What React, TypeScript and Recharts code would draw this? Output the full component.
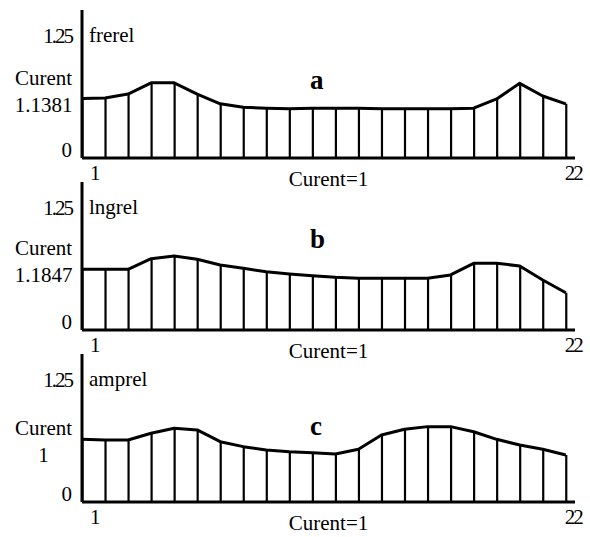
import React from 'react';
import { ComposedChart, Line, Bar, XAxis, YAxis, Customized } from 'recharts';

// point index along the x axis (1..22)
const points = [1, 2, 3, 4, 5, 6, 7, 8, 9, 10, 11, 12, 13, 14, 15, 16, 17, 18, 19, 20, 21, 22];

// relative values (0 .. 1.25 scale)
const frerel = [0.61, 0.615, 0.655, 0.77, 0.77, 0.655, 0.555, 0.52, 0.51, 0.505, 0.51, 0.51, 0.51, 0.505, 0.505, 0.505, 0.505, 0.51, 0.605, 0.765, 0.635, 0.555];
const lngrel = [0.622, 0.622, 0.622, 0.73, 0.758, 0.724, 0.666, 0.632, 0.597, 0.574, 0.556, 0.54, 0.53, 0.53, 0.53, 0.53, 0.564, 0.683, 0.683, 0.656, 0.512, 0.382];
const amprel = [0.642, 0.635, 0.635, 0.704, 0.755, 0.738, 0.618, 0.567, 0.533, 0.515, 0.505, 0.492, 0.54, 0.686, 0.745, 0.772, 0.772, 0.72, 0.642, 0.584, 0.54, 0.482];

const seriesNames = ['frerel', 'lngrel', 'amprel'];
const panelLetters = ['a', 'b', 'c'];
const currentValues = ['1.1381', '1.1847', '1'];
const topTick = 1.25;
const xTicks = [1, 22];
const xAxisTitle = 'Curent=1';

const FONT = 'Liberation Serif';
const FS = 21;

// layout of the "Curent" label around the first point, per panel
const curentOffsets = [
  [-13, 14],
  [-14, 13],
  [-4, 23],
];

const Stick = (props: any) => {
  const { x, y, width, height } = props;
  if (x == null || y == null) return null;
  const cx = x + width / 2;
  return <line x1={cx} x2={cx} y1={y} y2={y + height} stroke="#000" strokeWidth={2.2} />;
};

const makeYTick = (first: number, cur: string, offs: number[]) => (props: any) => {
  const { x, y, payload } = props;
  const v = payload.value;
  if (v === 0) {
    return (
      <text x={x} y={y - 1} textAnchor="end" fontFamily={FONT} fontSize={FS} fill="#000">0</text>
    );
  }
  if (v === topTick) {
    return (
      <text x={x} y={y + 7} textAnchor="end" fontFamily={FONT} fontSize={FS} fill="#000" letterSpacing={-2}>1.25</text>
    );
  }
  if (v === first) {
    return (
      <g>
        <text x={x - 28.5} y={y + offs[0]} textAnchor="middle" fontFamily={FONT} fontSize={FS} fill="#000">Curent</text>
        <text x={x - 28.5} y={y + offs[1]} textAnchor="middle" fontFamily={FONT} fontSize={FS} fill="#000">{cur}</text>
      </g>
    );
  }
  return null;
};

const XTick = (props: any) => {
  const { x, y, payload } = props;
  const dx = payload.value === 1 ? 8 : -1;
  return (
    <text x={x + dx} y={y + 22} textAnchor="start" fontFamily={FONT} fontSize={FS} fill="#000" letterSpacing={payload.value === 22 ? -2 : 0}>{payload.value}</text>
  );
};

const Annot = ({ name, letter, letterY }: { name: string; letter: string; letterY: number }) => (
  <g>
    <text x={89} y={42} fontFamily={FONT} fontSize={FS} fill="#000">{name}</text>
    <text x={310} y={letterY} fontFamily={FONT} fontSize={27} fontWeight="bold" fill="#000">{letter}</text>
  </g>
);

const letterBaselines = [89, 76, 91];

function Panel({ idx, values }: { idx: number; values: number[] }) {
  const data = points.map((p, i) => ({ x: p, v: values[i] }));
  const first = values[0];
  return (
    <ComposedChart
      width={590}
      height={190}
      data={data}
      margin={{ top: 10, right: 15, bottom: 2, left: 0 }}
    >
      <XAxis
        dataKey="x"
        type="number"
        domain={[1, 22.4]}
        ticks={xTicks}
        interval={0}
        tickSize={0}
        tickMargin={0}
        height={30}
        axisLine={{ stroke: '#000', strokeWidth: 3 }}
        tickLine={false}
        tick={<XTick />}
        label={{ value: xAxisTitle, position: 'insideBottom', offset: 2, fontFamily: FONT, fontSize: FS, fill: '#000' }}
      />
      <YAxis
        type="number"
        domain={[0, 1.516]}
        allowDataOverflow
        ticks={[0, first, topTick]}
        interval={0}
        width={82}
        tickSize={0}
        tickMargin={10}
        axisLine={{ stroke: '#000', strokeWidth: 3 }}
        tickLine={false}
        tick={makeYTick(first, currentValues[idx], curentOffsets[idx])}
      />
      <Bar dataKey="v" barSize={2} shape={<Stick />} isAnimationActive={false} />
      <Line
        dataKey="v"
        type="linear"
        stroke="#000"
        strokeWidth={3}
        strokeLinejoin="round"
        dot={false}
        activeDot={false}
        isAnimationActive={false}
      />
      <Customized component={<Annot name={seriesNames[idx]} letter={panelLetters[idx]} letterY={letterBaselines[idx]} />} />
    </ComposedChart>
  );
}

export default function App() {
  const all = [frerel, lngrel, amprel];
  return (
    <div style={{ position: 'absolute', left: 0, top: 0, width: 590, height: 537, background: '#fff' }}>
      {all.map((vals, i) => (
        <div key={i} style={{ position: 'absolute', left: 0, top: i * 172 }}>
          <Panel idx={i} values={vals} />
        </div>
      ))}
    </div>
  );
}
